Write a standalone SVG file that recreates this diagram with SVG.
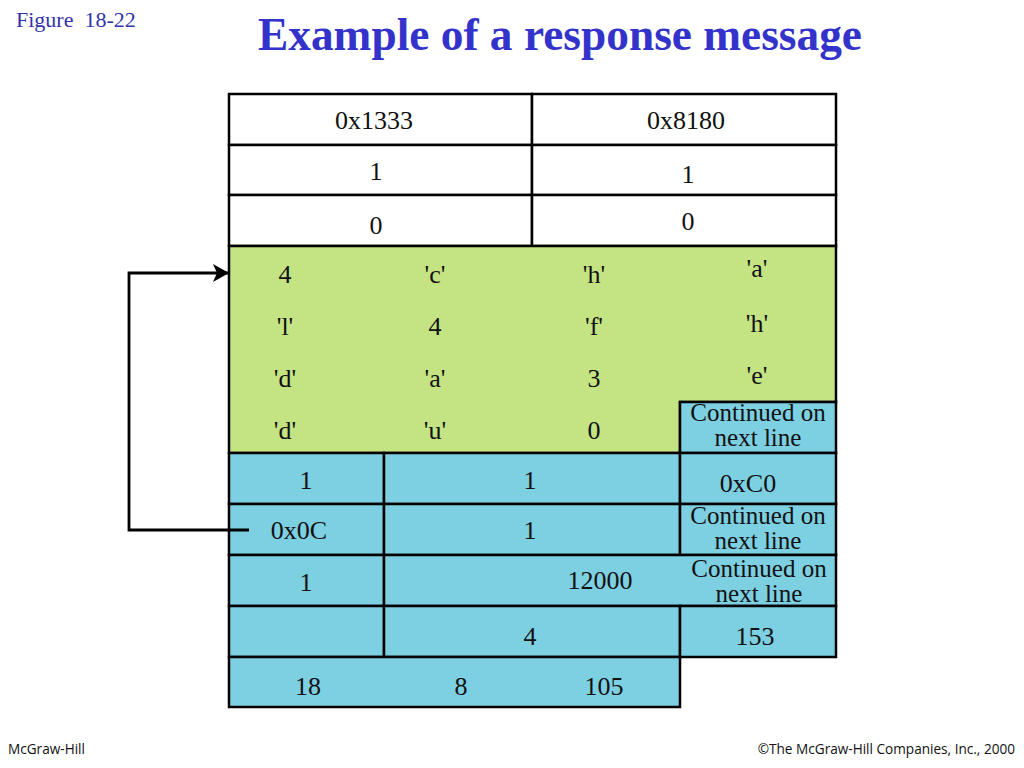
<svg xmlns="http://www.w3.org/2000/svg" width="1024" height="768" viewBox="0 0 1024 768">
<defs>
<style>
.w{fill:#ffffff;stroke:#000;stroke-width:2.5}
.g{fill:#c4e383;stroke:#000;stroke-width:2.5}
.b{fill:#7dcfe2;stroke:#000;stroke-width:2.5}
.t{font-family:"Liberation Serif","Times New Roman",serif;font-size:26px;fill:#111;text-anchor:middle}
.s{font-family:"Liberation Serif","Times New Roman",serif;font-size:25px;fill:#111;text-anchor:middle}
.f{font-family:"Open Sans","Liberation Sans",sans-serif;font-size:13.6px;fill:#111}
.c{fill:none;stroke:#000;stroke-width:2.8}
</style>
<marker id="ah" markerWidth="16" markerHeight="18" refX="15" refY="9" orient="auto" markerUnits="userSpaceOnUse" viewBox="0 0 16 18">
<path d="M0,0 L16,9 L0,18 L4,9 Z" fill="#000"/>
</marker>
</defs>
<rect width="1024" height="768" fill="#fff"/>
<text x="16" y="27" xml:space="preserve" style="font-family:'Liberation Serif','Times New Roman',serif;font-size:22px;fill:#3333aa">Figure  18-22</text>
<text x="560" y="50" textLength="604" lengthAdjust="spacingAndGlyphs" style="font-family:'Liberation Serif','Times New Roman',serif;font-size:47px;font-weight:bold;fill:#3333cc;text-anchor:middle">Example of a response message</text>

<g id="header">
<rect class="w" x="229" y="94" width="303" height="51"/>
<rect class="w" x="532" y="94" width="304" height="51"/>
<rect class="w" x="229" y="145" width="303" height="50"/>
<rect class="w" x="532" y="145" width="304" height="50"/>
<rect class="w" x="229" y="195" width="303" height="51"/>
<rect class="w" x="532" y="195" width="304" height="51"/>
<text class="t" x="374" y="129">0x1333</text>
<text class="t" x="686" y="129">0x8180</text>
<text class="t" x="376" y="180">1</text>
<text class="t" x="688" y="183">1</text>
<text class="t" x="376" y="234">0</text>
<text class="t" x="688" y="230">0</text>
</g>

<g id="question">
<path class="g" d="M229,246 H836 V402 H680 V453 H229 Z"/>
<rect class="b" x="680" y="402" width="156" height="51"/>
<text class="t" x="285" y="283">4</text>
<text class="t" x="435" y="283">'c'</text>
<text class="t" x="594" y="283">'h'</text>
<text class="t" x="757" y="277">'a'</text>
<text class="t" x="285" y="335">'l'</text>
<text class="t" x="435" y="335">4</text>
<text class="t" x="594" y="335">'f'</text>
<text class="t" x="757" y="332">'h'</text>
<text class="t" x="285" y="387">'d'</text>
<text class="t" x="435" y="387">'a'</text>
<text class="t" x="594" y="387">3</text>
<text class="t" x="757" y="384">'e'</text>
<text class="t" x="285" y="439">'d'</text>
<text class="t" x="435" y="439">'u'</text>
<text class="t" x="594" y="439">0</text>
<text class="s" x="758" y="421">Continued on</text>
<text class="s" x="758" y="446">next line</text>
</g>

<g id="answer">
<rect class="b" x="229" y="453" width="155" height="51"/>
<rect class="b" x="384" y="453" width="296" height="51"/>
<rect class="b" x="680" y="453" width="156" height="51"/>
<rect class="b" x="229" y="504" width="155" height="51"/>
<rect class="b" x="384" y="504" width="296" height="51"/>
<rect class="b" x="680" y="504" width="156" height="51"/>
<rect class="b" x="229" y="555" width="155" height="51"/>
<rect class="b" x="384" y="555" width="452" height="51"/>
<rect class="b" x="229" y="606" width="155" height="51"/>
<rect class="b" x="384" y="606" width="296" height="51"/>
<rect class="b" x="680" y="606" width="156" height="51"/>
<rect class="b" x="229" y="657" width="451" height="50"/>
<text class="t" x="306" y="489">1</text>
<text class="t" x="530" y="489">1</text>
<text class="t" x="748" y="492">0xC0</text>
<text class="t" x="299" y="539">0x0C</text>
<text class="t" x="530" y="539">1</text>
<text class="s" x="758" y="524">Continued on</text>
<text class="s" x="758" y="549">next line</text>
<text class="t" x="306" y="591">1</text>
<text class="t" x="600" y="589">12000</text>
<text class="s" x="759" y="577">Continued on</text>
<text class="s" x="759" y="602">next line</text>
<text class="t" x="530" y="645">4</text>
<text class="t" x="755" y="645">153</text>
<text class="t" x="308" y="695">18</text>
<text class="t" x="461" y="695">8</text>
<text class="t" x="604" y="695">105</text>
</g>

<g id="connectors">
<path class="c" d="M249,530 H129 V273 H228" marker-end="url(#ah)"/>
</g>

<text class="f" x="8" y="754">McGraw-Hill</text>
<text class="f" x="1015" y="754" text-anchor="end">©The McGraw-Hill Companies, Inc., 2000</text>
</svg>
